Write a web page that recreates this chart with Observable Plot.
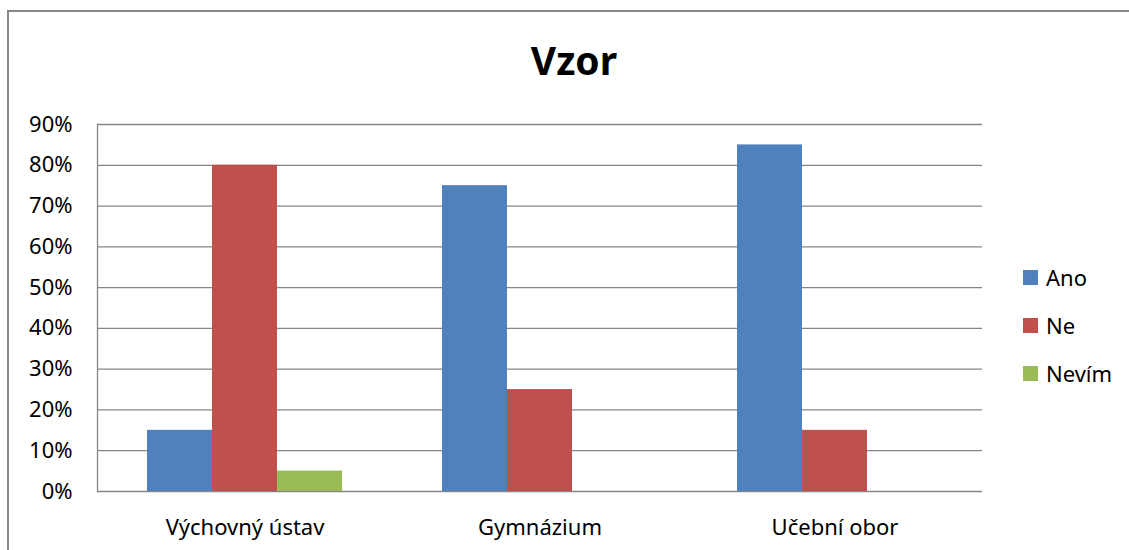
<!DOCTYPE html>
<html>
<head>
<meta charset="utf-8">
<script src="https://cdn.jsdelivr.net/npm/d3@7"></script>
<script src="https://cdn.jsdelivr.net/npm/@observablehq/plot@0.6"></script>
<style>
  html, body { margin: 0; padding: 0; background: #fff; }
  #wrap { position: relative; width: 1129px; height: 550px; overflow: hidden; background: #fff; font-family: "Noto Sans", sans-serif; }
  #border { position: absolute; left: 7px; top: 10px; width: 1300px; height: 700px; border: 2px solid #878787; box-sizing: border-box; }
  #title { position: absolute; left: 474px; top: 40px; width: 200px; text-align: center; font-size: 39px; line-height: 39px; font-weight: bold; color: #000; }
  #chart { position: absolute; left: 0; top: 100px; }
  #legend { position: absolute; left: 1023px; top: 253px; }
  .item { display: flex; align-items: center; height: 48px; font-size: 22px; color: #000; }
  .sw { width: 15px; height: 15px; margin-right: 8px; flex: none; }
</style>
</head>
<body>
<div id="wrap">
  <div id="border"></div>
  <div id="title"></div>
  <div id="chart"></div>
  <div id="legend"></div>
</div>
<script>
const titleText = "Vzor";
const categories = ["Výchovný ústav", "Gymnázium", "Učební obor"];
const series = ["Ano", "Ne", "Nevím"];
const colors = ["#4F81BD", "#C0504D", "#9BBB59"];
const ano = [0.15, 0.75, 0.85];
const ne = [0.80, 0.25, 0.15];
const nevim = [0.05, 0, 0];
const yTicks = [0, 0.1, 0.2, 0.3, 0.4, 0.5, 0.6, 0.7, 0.8, 0.9];

const valuesBySeries = [ano, ne, nevim];
const rows = [];
categories.forEach((c, i) => {
  series.forEach((s, j) => rows.push({category: c, series: s, value: valuesBySeries[j][i]}));
});

document.getElementById("title").textContent = titleText;

const chart = Plot.plot({
  width: 1129,
  height: 450,
  marginLeft: 96,
  marginRight: 147,
  marginTop: 24,
  marginBottom: 59,
  style: {fontFamily: "'Noto Sans', sans-serif", fontSize: "22px", color: "#000", background: "transparent"},
  fx: {domain: categories, padding: 0, label: null},
  x: {domain: series, paddingInner: 0, paddingOuter: 0.75, axis: null},
  y: {domain: [0, 0.9], label: null},
  color: {domain: series, range: colors},
  marks: [
    Plot.gridY(yTicks, {stroke: "#868686", strokeOpacity: 1, strokeWidth: 1.3}),
    Plot.frame({anchor: "left", facetAnchor: "left", stroke: "#868686", strokeWidth: 1.3}),
    Plot.barY(rows, {fx: "category", x: "series", y: "value", fill: "series"}),
    Plot.axisY(yTicks, {tickSize: 0, tickPadding: 25, fontSize: 22, tickFormat: d3.format(".0%"), label: null}),
    Plot.axisFx({anchor: "bottom", tickSize: 0, tickPadding: 28, fontSize: 22, label: null})
  ]
});
document.getElementById("chart").appendChild(chart);

const legend = document.getElementById("legend");
series.forEach((s, i) => {
  const item = document.createElement("div");
  item.className = "item";
  const sw = document.createElement("span");
  sw.className = "sw";
  sw.style.background = colors[i];
  const t = document.createElement("span");
  t.textContent = s;
  item.appendChild(sw);
  item.appendChild(t);
  legend.appendChild(item);
});
</script>
</body>
</html>
